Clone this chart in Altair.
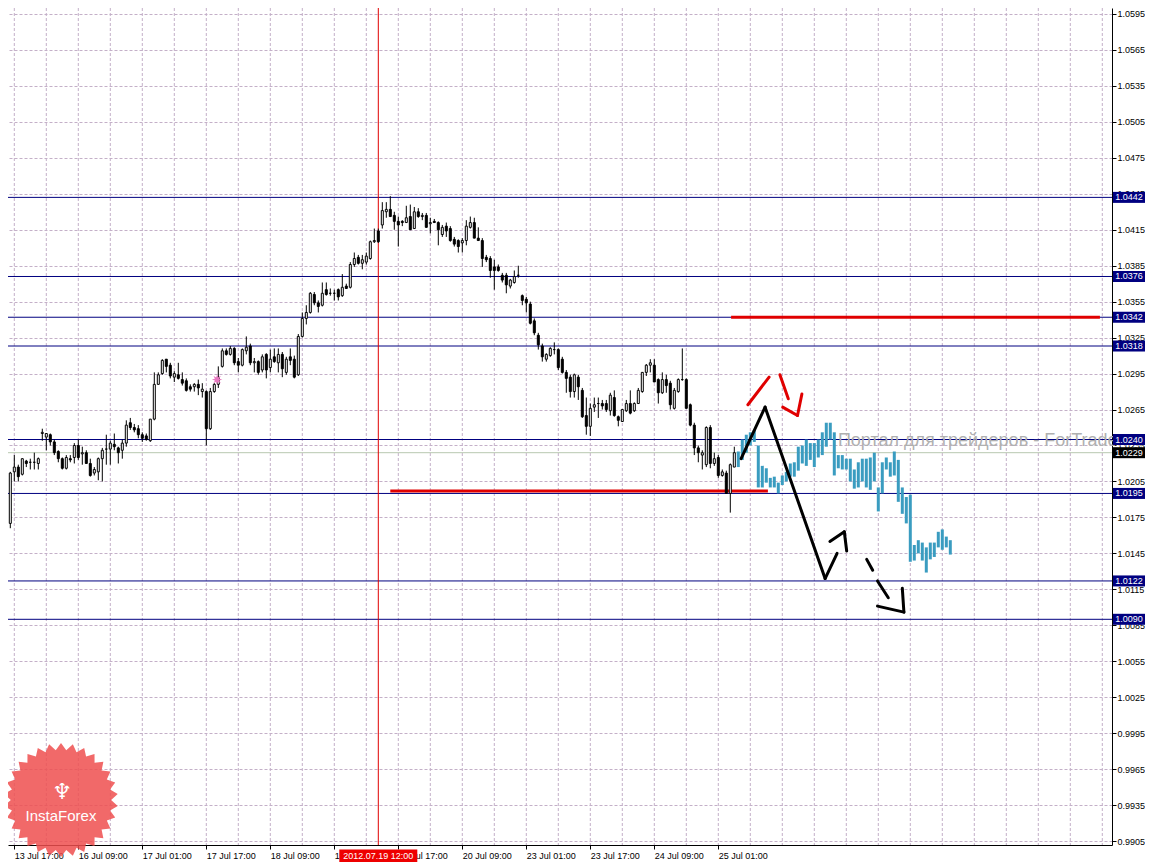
import math
import altair as alt
import pandas as pd

# ---------------- data (H1 bars, bar 0 = 13 Jul 17:00) ----------------
FIRST_BAR = -3
opens = [1.0179, 1.0169, 1.0170, 1.0213, 1.0217, 1.0211, 1.0222, 1.0221, 1.0221, 1.0220,
         1.0245, 1.0242, 1.0244, 1.0238, 1.0230, 1.0224, 1.0216, 1.0224, 1.0225, 1.0235,
         1.0228, 1.0229, 1.0220, 1.0212, 1.0213, 1.0224, 1.0232, 1.0232, 1.0236, 1.0233,
         1.0231, 1.0237, 1.0254, 1.0250, 1.0249, 1.0244, 1.0243, 1.0239, 1.0257, 1.0286,
         1.0295, 1.0307, 1.0302, 1.0292, 1.0294, 1.0290, 1.0289, 1.0284, 1.0284, 1.0286,
         1.0280, 1.0280, 1.0249, 1.0280, 1.0286, 1.0301, 1.0314, 1.0311, 1.0316, 1.0305,
         1.0302, 1.0314, 1.0318, 1.0304, 1.0305, 1.0298, 1.0311, 1.0300, 1.0309, 1.0304,
         1.0311, 1.0296, 1.0309, 1.0307, 1.0294, 1.0326, 1.0341, 1.0346, 1.0361, 1.0354,
         1.0352, 1.0365, 1.0362, 1.0362, 1.0365, 1.0360, 1.0368, 1.0367, 1.0386, 1.0392,
         1.0387, 1.0388, 1.0391, 1.0405, 1.0414, 1.0419, 1.0430, 1.0432, 1.0427, 1.0422,
         1.0422, 1.0421, 1.0426, 1.0416, 1.0430, 1.0426, 1.0427, 1.0420, 1.0422, 1.0421,
         1.0411, 1.0418, 1.0416, 1.0407, 1.0406, 1.0404, 1.0406, 1.0417, 1.0421, 1.0408,
         1.0406, 1.0392, 1.0391, 1.0384, 1.0384, 1.0377, 1.0377, 1.0368, 1.0371, 1.0377,
         1.0360, 1.0357, 1.0353, 1.0339, 1.0327, 1.0318, 1.0307, 1.0310, 1.0315, 1.0315,
         1.0307, 1.0296, 1.0292, 1.0280, 1.0292, 1.0281, 1.0260, 1.0251, 1.0267, 1.0270,
         1.0270, 1.0270, 1.0264, 1.0275, 1.0259, 1.0255, 1.0264, 1.0270, 1.0264, 1.0270,
         1.0280, 1.0296, 1.0302, 1.0302, 1.0290, 1.0279, 1.0290, 1.0287, 1.0266, 1.0280,
         1.0290, 1.0290, 1.0269, 1.0252, 1.0233, 1.0227, 1.0219, 1.0250, 1.0220, 1.0225,
         1.0210, 1.0212, 1.0195, 1.0217]
highs = [1.0180, 1.0175, 1.0213, 1.0227, 1.0219, 1.0224, 1.0223, 1.0224, 1.0229, 1.0225,
         1.0249, 1.0245, 1.0245, 1.0240, 1.0231, 1.0225, 1.0227, 1.0227, 1.0237, 1.0240,
         1.0234, 1.0231, 1.0224, 1.0217, 1.0225, 1.0233, 1.0244, 1.0239, 1.0245, 1.0234,
         1.0240, 1.0256, 1.0258, 1.0253, 1.0252, 1.0246, 1.0245, 1.0257, 1.0296, 1.0296,
         1.0307, 1.0307, 1.0304, 1.0297, 1.0304, 1.0296, 1.0291, 1.0286, 1.0287, 1.0290,
         1.0287, 1.0281, 1.0283, 1.0287, 1.0301, 1.0316, 1.0316, 1.0318, 1.0317, 1.0308,
         1.0316, 1.0326, 1.0320, 1.0308, 1.0306, 1.0311, 1.0312, 1.0315, 1.0316, 1.0316,
         1.0313, 1.0309, 1.0316, 1.0310, 1.0328, 1.0346, 1.0352, 1.0363, 1.0363, 1.0356,
         1.0371, 1.0371, 1.0366, 1.0365, 1.0366, 1.0378, 1.0370, 1.0388, 1.0396, 1.0394,
         1.0394, 1.0396, 1.0406, 1.0416, 1.0416, 1.0438, 1.0438, 1.0443, 1.0430, 1.0426,
         1.0423, 1.0435, 1.0436, 1.0434, 1.0433, 1.0429, 1.0429, 1.0425, 1.0424, 1.0422,
         1.0419, 1.0421, 1.0418, 1.0409, 1.0407, 1.0408, 1.0423, 1.0426, 1.0425, 1.0417,
         1.0408, 1.0394, 1.0393, 1.0390, 1.0386, 1.0379, 1.0379, 1.0374, 1.0381, 1.0385,
         1.0361, 1.0359, 1.0355, 1.0341, 1.0329, 1.0320, 1.0312, 1.0317, 1.0321, 1.0316,
         1.0309, 1.0298, 1.0294, 1.0295, 1.0294, 1.0283, 1.0275, 1.0270, 1.0275, 1.0275,
         1.0273, 1.0273, 1.0279, 1.0281, 1.0260, 1.0265, 1.0273, 1.0281, 1.0271, 1.0283,
         1.0296, 1.0303, 1.0307, 1.0307, 1.0291, 1.0296, 1.0294, 1.0289, 1.0283, 1.0291,
         1.0316, 1.0291, 1.0270, 1.0254, 1.0235, 1.0231, 1.0251, 1.0252, 1.0229, 1.0227,
         1.0215, 1.0214, 1.0220, 1.0234]
lows = [1.0166, 1.0163, 1.0166, 1.0205, 1.0205, 1.0210, 1.0217, 1.0215, 1.0215, 1.0215,
        1.0239, 1.0231, 1.0235, 1.0227, 1.0221, 1.0215, 1.0215, 1.0221, 1.0220, 1.0223,
        1.0219, 1.0220, 1.0209, 1.0210, 1.0206, 1.0205, 1.0219, 1.0219, 1.0231, 1.0220,
        1.0224, 1.0234, 1.0248, 1.0246, 1.0241, 1.0238, 1.0239, 1.0238, 1.0256, 1.0286,
        1.0294, 1.0296, 1.0291, 1.0288, 1.0290, 1.0285, 1.0280, 1.0280, 1.0280, 1.0277,
        1.0275, 1.0235, 1.0248, 1.0279, 1.0283, 1.0300, 1.0310, 1.0310, 1.0302, 1.0296,
        1.0301, 1.0311, 1.0302, 1.0296, 1.0294, 1.0296, 1.0291, 1.0296, 1.0304, 1.0296,
        1.0292, 1.0294, 1.0302, 1.0291, 1.0293, 1.0325, 1.0336, 1.0345, 1.0352, 1.0346,
        1.0351, 1.0360, 1.0360, 1.0356, 1.0356, 1.0359, 1.0366, 1.0366, 1.0384, 1.0386,
        1.0382, 1.0386, 1.0390, 1.0404, 1.0404, 1.0416, 1.0425, 1.0426, 1.0415, 1.0401,
        1.0418, 1.0421, 1.0415, 1.0416, 1.0425, 1.0423, 1.0417, 1.0412, 1.0421, 1.0402,
        1.0409, 1.0409, 1.0405, 1.0401, 1.0396, 1.0396, 1.0402, 1.0416, 1.0408, 1.0406,
        1.0384, 1.0388, 1.0375, 1.0365, 1.0380, 1.0371, 1.0362, 1.0366, 1.0370, 1.0375,
        1.0352, 1.0346, 1.0336, 1.0327, 1.0315, 1.0305, 1.0305, 1.0309, 1.0311, 1.0298,
        1.0295, 1.0279, 1.0275, 1.0275, 1.0273, 1.0258, 1.0244, 1.0243, 1.0263, 1.0258,
        1.0265, 1.0263, 1.0260, 1.0259, 1.0251, 1.0255, 1.0263, 1.0261, 1.0263, 1.0270,
        1.0279, 1.0293, 1.0296, 1.0288, 1.0270, 1.0278, 1.0279, 1.0265, 1.0265, 1.0279,
        1.0289, 1.0266, 1.0251, 1.0227, 1.0221, 1.0215, 1.0217, 1.0216, 1.0218, 1.0208,
        1.0209, 1.0195, 1.0179, 1.0217]
closes = [1.0169, 1.0173, 1.0212, 1.0217, 1.0209, 1.0224, 1.0220, 1.0221, 1.0221, 1.0224,
          1.0246, 1.0245, 1.0238, 1.0229, 1.0224, 1.0216, 1.0225, 1.0223, 1.0235, 1.0225,
          1.0229, 1.0220, 1.0210, 1.0215, 1.0224, 1.0231, 1.0232, 1.0237, 1.0234, 1.0229,
          1.0237, 1.0252, 1.0250, 1.0248, 1.0244, 1.0241, 1.0240, 1.0257, 1.0286, 1.0294,
          1.0306, 1.0301, 1.0293, 1.0295, 1.0291, 1.0287, 1.0281, 1.0282, 1.0286, 1.0283,
          1.0282, 1.0249, 1.0280, 1.0286, 1.0292, 1.0314, 1.0311, 1.0316, 1.0304, 1.0302,
          1.0315, 1.0317, 1.0304, 1.0305, 1.0296, 1.0309, 1.0298, 1.0307, 1.0305, 1.0311,
          1.0299, 1.0307, 1.0306, 1.0292, 1.0326, 1.0341, 1.0346, 1.0362, 1.0354, 1.0351,
          1.0362, 1.0361, 1.0362, 1.0362, 1.0359, 1.0367, 1.0366, 1.0386, 1.0391, 1.0387,
          1.0390, 1.0393, 1.0405, 1.0406, 1.0405, 1.0431, 1.0432, 1.0426, 1.0422, 1.0419,
          1.0421, 1.0425, 1.0415, 1.0430, 1.0426, 1.0427, 1.0417, 1.0421, 1.0421, 1.0415,
          1.0417, 1.0414, 1.0406, 1.0403, 1.0401, 1.0406, 1.0418, 1.0421, 1.0408, 1.0406,
          1.0391, 1.0390, 1.0381, 1.0381, 1.0381, 1.0373, 1.0369, 1.0373, 1.0376, 1.0377,
          1.0356, 1.0354, 1.0337, 1.0329, 1.0319, 1.0309, 1.0311, 1.0316, 1.0315, 1.0300,
          1.0296, 1.0291, 1.0280, 1.0294, 1.0284, 1.0259, 1.0251, 1.0266, 1.0269, 1.0270,
          1.0268, 1.0265, 1.0277, 1.0260, 1.0256, 1.0265, 1.0270, 1.0262, 1.0270, 1.0281,
          1.0296, 1.0302, 1.0304, 1.0288, 1.0279, 1.0290, 1.0285, 1.0269, 1.0281, 1.0290,
          1.0290, 1.0266, 1.0252, 1.0233, 1.0229, 1.0229, 1.0250, 1.0220, 1.0224, 1.0210,
          1.0213, 1.0195, 1.0219, 1.0229]

# projected (teal) bars
PROJ_FIRST = 181
proj_high = [1.0230, 1.0240, 1.0244, 1.0246, 1.0248, 1.0235, 1.0218, 1.0216, 1.0208, 1.0209,
             1.0204, 1.0210, 1.0213, 1.0220, 1.0221, 1.0234, 1.0235, 1.0240, 1.0237, 1.0237,
             1.0240, 1.0246, 1.0254, 1.0254, 1.0246, 1.0227, 1.0227, 1.0224, 1.0224, 1.0215,
             1.0221, 1.0224, 1.0224, 1.0225, 1.0229, 1.0200, 1.0221, 1.0225, 1.0221, 1.0230,
             1.0223, 1.0200, 1.0192, 1.0194, 1.0152, 1.0156, 1.0154, 1.0150, 1.0154, 1.0154,
             1.0163, 1.0165, 1.0159, 1.0156]
proj_low = [1.0217, 1.0223, 1.0229, 1.0235, 1.0238, 1.0200, 1.0200, 1.0204, 1.0200, 1.0200,
            1.0195, 1.0202, 1.0205, 1.0209, 1.0209, 1.0214, 1.0220, 1.0218, 1.0223, 1.0217,
            1.0225, 1.0227, 1.0234, 1.0240, 1.0210, 1.0216, 1.0215, 1.0215, 1.0205, 1.0199,
            1.0200, 1.0205, 1.0200, 1.0198, 1.0205, 1.0180, 1.0195, 1.0215, 1.0209, 1.0210,
            1.0188, 1.0178, 1.0170, 1.0138, 1.0139, 1.0145, 1.0139, 1.0129, 1.0140, 1.0142,
            1.0150, 1.0148, 1.0150, 1.0144]

time_tick_bars = [0, 16, 32, 48, 64, 80, 96, 112, 128, 144, 160, 176]
time_tick_labels = ["13 Jul 17:00", "16 Jul 09:00", "17 Jul 01:00", "17 Jul 17:00",
                    "18 Jul 09:00", "19 Jul 01:00", "19 Jul 17:00", "20 Jul 09:00",
                    "23 Jul 01:00", "23 Jul 17:00", "24 Jul 09:00", "25 Jul 01:00"]
grid_bars = [0, 8, 16, 24, 32, 40, 48, 56, 64, 72, 80, 88, 96, 104, 112, 120, 128, 136,
             144, 152, 160, 168, 176, 184, 192, 200, 208, 216, 224, 232, 240, 248, 256,
             264, 272]
price_ticks = [0.9905, 0.9935, 0.9965, 0.9995, 1.0025, 1.0055, 1.0085, 1.0115, 1.0145,
               1.0175, 1.0205, 1.0235, 1.0265, 1.0295, 1.0325, 1.0355, 1.0385, 1.0415,
               1.0445, 1.0475, 1.0505, 1.0535, 1.0565, 1.0595]

level_prices = [1.0442, 1.0376, 1.0342, 1.0318, 1.0240, 1.0195, 1.0122, 1.0090]
bid_price = [1.0229]
cursor_bar = [91]
cursor_label = ["2012.07.19 12:00"]

red_h_x1 = [94.0, 179.2]
red_h_x2 = [188.4, 271.4]
red_h_y = [1.0197, 1.0342]

black_x1 = [181.7, 187.7, 202.7, 203.9, 207.5, 213.1, 215.8, 215.8, 222.4]
black_y1 = [1.0224, 1.0267, 1.0124, 1.0155, 1.0163, 1.0140, 1.0122, 1.0101, 1.0096]
black_x2 = [187.7, 202.7, 205.7, 207.5, 208.1, 214.6, 218.5, 222.4, 222.0]
black_y2 = [1.0267, 1.0124, 1.0145, 1.0163, 1.0147, 1.0131, 1.0108, 1.0096, 1.0116]

red_x1 = [183.4, 191.4, 192.1, 195.8]
red_y1 = [1.0269, 1.0294, 1.0267, 1.0260]
red_x2 = [188.7, 193.5, 195.8, 196.9]
red_y2 = [1.0292, 1.0274, 1.0260, 1.0278]

star_bar = [50.7]
star_price = [1.0290]
watermark = ["Портал для трейдеров - ForTrader.ru"]
watermark_bar = [205.9]
watermark_price = [1.0239]
logo_text = ["InstaForex"]
logo_icon = ["♆"]

# ---------------- styling ----------------
W, H = 1104, 837
PAD_R, PAD_B = 33, 17          # svg = 1137 wide: exactly the page's content width
FONT = "Liberation Sans"
NAVY = "#000080"
GRID = "#c4b0c8"
TEAL = "#3a9cc0"
RED = "#e00000"

xs = alt.Scale(domain=[-1.575, 274.425], nice=False, zero=False, padding=0)
ys = alt.Scale(domain=[0.99017, 1.0600], nice=False, zero=False, padding=0)

label_expr = "[" + ",".join("'%s'" % s for s in time_tick_labels) + "][round(datum.value/16)]"
xaxis = alt.Axis(values=time_tick_bars, labelExpr=label_expr, title=None, grid=False,
                 orient="bottom", tickSize=4, labelAlign="left", labelPadding=2,
                 labelFont=FONT, labelFontSize=9, labelColor="black", domainColor="black",
                 tickColor="black", labelOverlap=False, labelFlush=False, labelBound=False,
                 zindex=0)
yaxis = alt.Axis(values=price_ticks, format=".4f", title=None, orient="right", grid=True,
                 gridColor=GRID, gridDash=[3, 2], gridWidth=1, tickSize=4, labelPadding=1,
                 labelFont=FONT, labelFontSize=9, labelColor="black", domainColor="black",
                 tickColor="black", labelOverlap=False, labelFlush=False, labelBound=False,
                 zindex=0)


def X(f):
    return alt.X(f + ":Q", scale=xs, axis=xaxis)


def Y(f):
    return alt.Y(f + ":Q", scale=ys, axis=yaxis)


# ---------------- frames ----------------
n = len(opens)
candles = pd.DataFrame({
    "bar": list(range(FIRST_BAR, FIRST_BAR + n)),
    "open": opens, "high": highs, "low": lows, "close": closes,
})
candles["bull"] = candles["close"] >= candles["open"]

proj = pd.DataFrame({
    "bar": list(range(PROJ_FIRST, PROJ_FIRST + len(proj_high))),
    "hi": proj_high, "lo": proj_low,
})
grid_df = pd.DataFrame({"bar": grid_bars})
levels_df = pd.DataFrame({"price": level_prices,
                          "label": ["%.4f" % p for p in level_prices]})
bid_df = pd.DataFrame({"price": bid_price, "label": ["%.4f" % p for p in bid_price]})
cursor_df = pd.DataFrame({"bar": cursor_bar, "label": cursor_label})
redh_df = pd.DataFrame({"x1": red_h_x1, "x2": red_h_x2, "y": red_h_y})
black_df = pd.DataFrame({"x1": black_x1, "y1": black_y1, "x2": black_x2, "y2": black_y2})
red_df = pd.DataFrame({"x1": red_x1, "y1": red_y1, "x2": red_x2, "y2": red_y2})
star_df = pd.DataFrame({"bar": star_bar, "price": star_price})
wm_df = pd.DataFrame({"bar": watermark_bar, "price": watermark_price, "t": watermark})
logo_df = pd.DataFrame({"t": logo_text, "icon": logo_icon})


def star_path(points, inner):
    pts = []
    for k in range(points * 2):
        a = math.pi * k / points - math.pi / 2
        r = 1.0 if k % 2 == 0 else inner
        pts.append("%.3f,%.3f" % (r * math.cos(a), r * math.sin(a)))
    return "M" + "L".join(pts) + "Z"


def box_path(w, h):
    hh = h / w
    return "M-1,-%.3fL1,-%.3fL1,%.3fL-1,%.3fZ" % (hh, hh, hh, hh)


# ---------------- layers ----------------
vgrid = alt.Chart(grid_df).mark_rule(color=GRID, strokeDash=[3, 2], strokeWidth=1).encode(
    x=X("bar"))

levels = alt.Chart(levels_df).mark_rule(color=NAVY, strokeWidth=1).encode(y=Y("price"))
bid = alt.Chart(bid_df).mark_rule(color="#b8c8b0", strokeWidth=1).encode(y=Y("price"))

wm = alt.Chart(wm_df).mark_text(align="left", baseline="middle", font=FONT, fontSize=18,
                                color="#b0b0b0").encode(
    x=X("bar"), y=Y("price"), text="t:N")

cursor = alt.Chart(cursor_df).mark_rule(color=RED, strokeWidth=1).encode(x=X("bar"))

redh = alt.Chart(redh_df).mark_rule(color=RED, strokeWidth=3).encode(
    x=X("x1"), x2="x2", y=Y("y"))

wicks = alt.Chart(candles).mark_rule(color="black", strokeWidth=1, clip=True).encode(
    x=X("bar"), y=Y("low"), y2="high")
bodies = alt.Chart(candles).mark_bar(size=2, stroke="black", strokeWidth=1, clip=True,
                                     orient="vertical").encode(
    x=X("bar"), y=Y("open"), y2="close",
    fill=alt.condition("datum.bull", alt.value("white"), alt.value("black")))

projbars = alt.Chart(proj).mark_rule(color=TEAL, strokeWidth=3).encode(
    x=X("bar"), y=Y("lo"), y2="hi")

blackseg = alt.Chart(black_df).mark_rule(color="black", strokeWidth=3, strokeCap="round").encode(
    x=X("x1"), y=Y("y1"), x2="x2", y2="y2")
redseg = alt.Chart(red_df).mark_rule(color=RED, strokeWidth=3, strokeCap="round").encode(
    x=X("x1"), y=Y("y1"), x2="x2", y2="y2")

star = alt.Chart(star_df).mark_point(shape=star_path(8, 0.45), filled=True, color="#e878c0",
                                     size=110, opacity=1).encode(x=X("bar"), y=Y("price"))

BOX_W = 32
BOX_X = W + 1 + BOX_W / 2
lvl_box = alt.Chart(levels_df).mark_point(shape=box_path(BOX_W, 11), filled=True, color=NAVY,
                                          size=BOX_W * BOX_W, opacity=1).encode(
    x=alt.value(BOX_X), y=Y("price"))
lvl_txt = alt.Chart(levels_df).mark_text(font=FONT, fontSize=9, color="white",
                                         baseline="middle", align="center").encode(
    x=alt.value(BOX_X), y=Y("price"), text="label:N")
bid_box = alt.Chart(bid_df).mark_point(shape=box_path(BOX_W, 11), filled=True, color="black",
                                       size=BOX_W * BOX_W, opacity=1).encode(
    x=alt.value(BOX_X), y=Y("price"))
bid_txt = alt.Chart(bid_df).mark_text(font=FONT, fontSize=9, color="white",
                                      baseline="middle", align="center").encode(
    x=alt.value(BOX_X), y=Y("price"), text="label:N")

cur_box = alt.Chart(cursor_df).mark_point(shape=box_path(78, 13), filled=True, color="#ee0000",
                                          size=78 * 78, opacity=1).encode(
    x=X("bar"), y=alt.value(H + 11))
cur_txt = alt.Chart(cursor_df).mark_text(font=FONT, fontSize=9, color="white",
                                         baseline="middle", align="center").encode(
    x=X("bar"), y=alt.value(H + 11), text="label:N")

logo_burst = alt.Chart(logo_df).mark_point(shape=star_path(30, 0.88), filled=True,
                                           color="#ef4f4f", size=114 * 114,
                                           opacity=0.85).encode(
    x=alt.value(53), y=alt.value(792))
logo_icon_mark = alt.Chart(logo_df).mark_text(font="DejaVu Sans", fontSize=22, color="white",
                                              baseline="middle", align="center").encode(
    x=alt.value(54), y=alt.value(784), text="icon:N")
logo_txt = alt.Chart(logo_df).mark_text(font=FONT, fontSize=15, color="white",
                                        baseline="middle", align="center").encode(
    x=alt.value(53), y=alt.value(808), text="t:N")

chart = alt.layer(
    vgrid, levels, bid, wm, cursor, redh, wicks, bodies, projbars, blackseg, redseg, star,
    lvl_box, lvl_txt, bid_box, bid_txt, cur_box, cur_txt, logo_burst, logo_icon_mark,
    logo_txt,
).properties(
    width=W, height=H, background="white",
    autosize=alt.AutoSizeParams(type="none"),
    padding={"left": 0, "top": 0, "right": PAD_R, "bottom": PAD_B},
).configure_view(stroke=None)

chart.save("out.html", embed_options={"renderer": "svg", "actions": False})
